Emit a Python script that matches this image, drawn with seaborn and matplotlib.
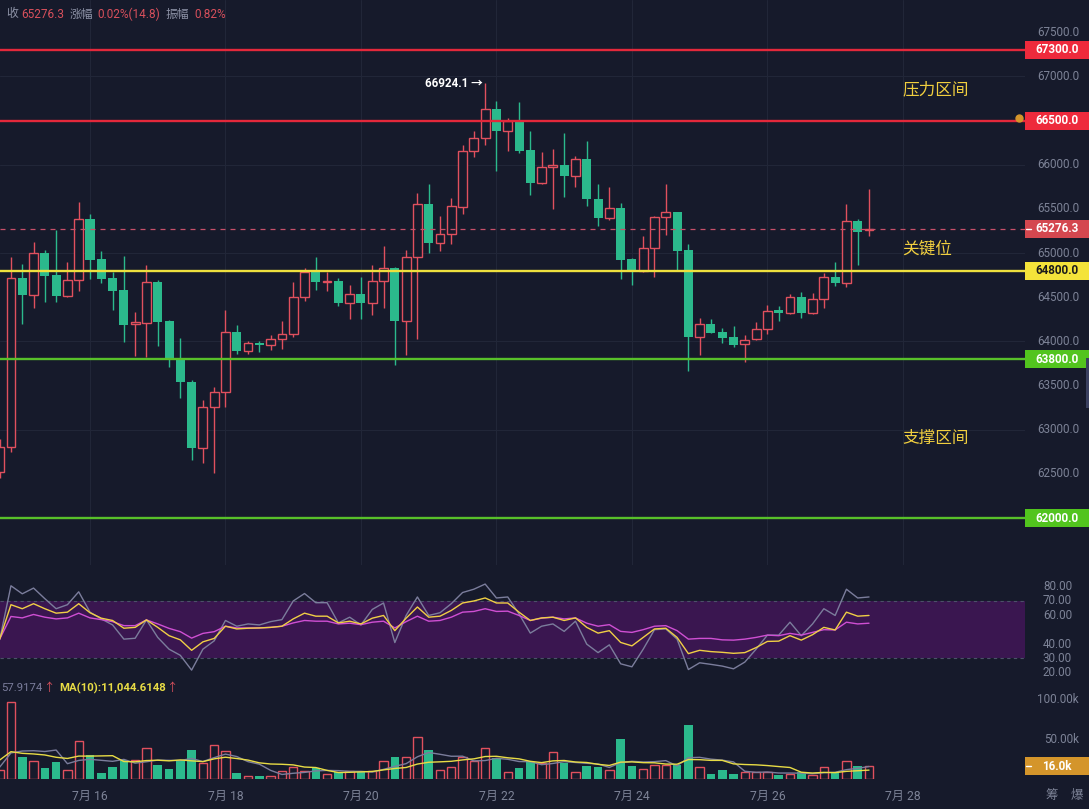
import numpy as np
import pandas as pd
import matplotlib
matplotlib.use("Agg")
import matplotlib.pyplot as plt
import matplotlib.transforms as mtransforms
from matplotlib.patches import Rectangle
import seaborn as sns

# ---------------- data ----------------
start_time = "2024-07-14 16:00"   # first visible 4h candle
opens = [62520, 62800, 64718, 64525, 65001, 64752, 64514, 64695, 65386, 64933,
         64718, 64582, 64197, 64208, 64673, 64231, 63800, 63540, 62793, 63257,
         63427, 64106, 63891, 63982, 63960, 64027, 64084, 64503, 64786, 64670,
         64685, 64435, 64537, 64435, 64684, 64831, 64231, 64956, 65556, 65114,
         65216, 65522, 66156, 66303, 66632, 66383, 66496, 66167, 65794, 65975,
         65998, 65873, 66066, 65613, 65397, 65511, 64933, 64797, 65058, 65409,
         65465, 65035, 64050, 64197, 64106, 64050, 63970, 64027, 64140, 64355,
         64322, 64503, 64322, 64480, 64729, 64661, 65363, 65261.5]
highs = [62890, 64956, 64877, 65126, 65035, 65262, 64899, 65579, 65443, 65024,
         64786, 64967, 64333, 64865, 64700, 64240, 64038, 63563, 63336, 63483,
         64355, 64186, 64004, 64000, 64072, 64231, 64673, 64831, 64956, 64786,
         64718, 64639, 64729, 64865, 65081, 64840, 65035, 65681, 65783, 65420,
         65624, 66224, 66383, 66924.1, 66722, 66530, 66711, 66383, 66145, 66178,
         66360, 66100, 66269, 65783, 65748, 65567, 64940, 65194, 65420, 65783,
         65470, 65103, 64265, 64254, 64150, 64175, 64072, 64220, 64412, 64401,
         64537, 64560, 64548, 64775, 64899, 65556, 65386, 65726]
lows = [62450, 62747, 64197, 64378, 64446, 64446, 64500, 64571, 64707, 64661,
        64355, 63993, 63835, 63823, 63948, 63710, 63359, 62657, 62623, 62510,
        63257, 63857, 63857, 63880, 63902, 63913, 64050, 64457, 64582, 64571,
        64401, 64254, 64254, 64299, 64378, 63733, 63846, 64027, 65001, 65024,
        65103, 65443, 66088, 66224, 65930, 66156, 66133, 65658, 65780, 65499,
        65635, 65748, 65533, 65307, 65380, 64707, 64639, 64790, 64729, 65205,
        64808, 63665, 63846, 64090, 63982, 63936, 63767, 64015, 64084, 64231,
        64310, 64265, 64310, 64378, 64627, 64616, 64865, 65190]
closes = [62800, 64718, 64525, 65001, 64741, 64514, 64695, 65386, 64922, 64707,
          64571, 64186, 64220, 64673, 64220, 63789, 63540, 62793, 63257, 63427,
          64106, 63891, 63982, 63960, 64027, 64084, 64503, 64786, 64673, 64685,
          64435, 64537, 64435, 64684, 64831, 64231, 64956, 65556, 65114, 65216,
          65533, 66156, 66303, 66632, 66383, 66496, 66156, 65794, 65975, 65998,
          65873, 66066, 65613, 65397, 65511, 64922, 64797, 65058, 65409, 65465,
          65024, 64050, 64197, 64095, 64038, 63960, 64020, 64140, 64344, 64322,
          64503, 64322, 64480, 64729, 64661, 65363, 65239, 65276.3]
volume_k = [11.7, 98, 27.5, 23, 13.8, 21, 11.7, 48, 30, 7.5,
            14.6, 24, 24, 39, 18, 13, 23, 36.7, 20, 42.5,
            35.4, 7.5, 4.2, 4.2, 3.3, 9.6, 15, 9.6, 13.8, 6.3,
            8.3, 10.4, 9.6, 9.6, 23, 27.5, 27.5, 53, 36.7, 11.7,
            15, 28, 23, 39, 26, 8.8, 13.8, 22, 20, 33.8,
            20, 8.8, 16.7, 15.8, 11.7, 51, 16.7, 12.5, 18, 18,
            18, 68, 15, 6.7, 11.7, 6.7, 8.8, 8.3, 8.8, 5.4,
            6.3, 8.3, 4.6, 15, 8.3, 23, 16.7, 16.0]
ma5_head = [15, 33, 35.4, 35.8]
ma10_head = [24, 34.6, 32.5, 31.7, 30.4, 27.5, 26, 29, 29]
rsi6 = [43, 80.6, 75, 79, 71.6, 64.6, 67.4, 76.4, 62.2, 57.5, 53.3, 43.4, 44,
        56.8, 44.6, 36.4, 32.1, 21.8, 36.4, 42.2, 56.4, 52.4, 54, 53.3, 55.6,
        57, 70, 75.2, 68.8, 68.8, 54.7, 58.7, 53.3, 64.1, 68.6, 41, 59.9, 72.8,
        59.9, 61.8, 68.1, 75.9, 78.2, 81.8, 72.1, 72.8, 61,
        47.6, 52.4, 54, 48.8, 55.9, 39.9, 34, 39.4, 26.2, 24.1, 36.4, 50, 50.5,
        43.4, 22.2, 26.9, 25.8, 24.6, 22.7, 27.4, 36.4, 46.2, 46.2, 55.2, 45.8,
        54, 64.6, 59.9, 78.2, 72.1, 72.8]
rsi12 = [43.4, 67.4, 64.6, 68.1, 64.6, 61.5, 62.2, 68.1, 61.8, 58, 56.4, 51,
         51.6, 56.8, 51.6, 45.8, 42.9, 35.6, 41.5, 43.9, 52.4, 50.5, 51, 51.2,
         51.6, 52.4, 57.5, 61.5, 59.4, 59.4, 54.7, 55.9, 54, 58, 59.9, 49.3, 58,
         65.8, 58.7, 59.4, 63.4, 68.6, 70, 72.1, 68.6, 68.6, 62.2,
         56.4, 58.2, 58.7, 56.4, 58.2, 51.6, 47.6, 49.3, 41.1, 38.7, 44.6, 50.5,
         51, 44.6, 33.3, 35.6, 34.7, 34.2, 33.5, 34, 37.5, 41.8, 42, 45.8, 42.7,
         46.5, 51.6, 49.8, 62.2, 59.4, 59.9]
rsi24 = [43.4, 59.2, 58.2, 60.6, 58.7, 57.5, 58.2, 61.5, 58.2, 57, 55.6, 52.8,
         52.8, 56.8, 54, 50.9, 48.6, 44.1, 47.4, 48.6, 52.4, 51.2, 51.2, 51.2,
         51.6, 52.4, 54.7, 56.4, 55.9, 55.9, 54, 54.5, 53.5, 55.2, 55.9, 51.2,
         55.6, 59.4, 55.9, 56.4, 58.7, 62.2, 62.7, 64.6, 62.7, 62.9, 59.9,
         56.4, 58, 58.7, 57.5, 58.2, 54.5, 52.4, 53.5, 48.8, 48.1, 50, 52.4,
         52.8, 49.3, 43.4, 43.9, 43.9, 42.9, 42.7, 43.4, 44.6, 46.2, 45.8, 47.4,
         46.2, 48.1, 50, 49.8, 55.2, 54, 54.5]

day_ticks = ["2024-07-16", "2024-07-18", "2024-07-20", "2024-07-22",
             "2024-07-24", "2024-07-26", "2024-07-28"]
day_labels = ["7月 16", "7月 18", "7月 20", "7月 22", "7月 24", "7月 26", "7月 28"]
price_ticks = [67500, 67000, 66500, 66000, 65500, 65000, 64500, 64000,
               63500, 63000, 62500, 62000]
grid_prices = [67000, 66000, 65000, 64000, 63000, 62000]
resistance_levels = [67300, 66500]
key_levels = [64800]
support_levels = [63800, 62000]
last_price = 65276.3
rsi_ticks = [80, 70, 60, 40, 30, 20]
rsi_band = [30, 70]
vol_ticks = [100, 50]
last_vol_label = "16.0k"
zone_labels = ["压力区间", "关键位", "支撑区间"]
info_texts = ["收", "65276.3", "涨幅", "0.02%(14.8)", "振幅", "0.82%"]
ma5_text = "57.9174"
ma10_text = "MA(10):11,044.6148"

# ---------------- style ----------------
BG = "#161a2b"
GRID = "#212638"
UP = "#e0505e"
DOWN = "#2bb98c"
TXT = "#7d8397"
sns.set_style("dark", {"axes.facecolor": BG, "figure.facecolor": BG})
plt.rcParams["font.family"] = ["Roboto", "Noto Sans CJK SC", "DejaVu Sans"]

W, H = 1089, 809
fig = plt.figure(figsize=(W / 100, H / 100), dpi=100, facecolor=BG)


def rect(x0, y0, x1, y1):
    return [x0 / W, 1 - y1 / H, (x1 - x0) / W, (y1 - y0) / H]


ax_p = fig.add_axes(rect(0, 0, 1025, 565))
ax_r = fig.add_axes(rect(0, 570, 1025, 680))
ax_v = fig.add_axes(rect(0, 683, 1025, 779))
for ax in (ax_p, ax_r, ax_v):
    ax.set_facecolor(BG)
    for s in ax.spines.values():
        s.set_visible(False)
    ax.set_xticks([])
    ax.set_yticks([])
    ax.grid(False)

times = pd.date_range(start_time, periods=len(opens), freq="4h")
n = np.arange(len(opens), dtype=float)
o, h, l, c = (np.asarray(a, float) for a in (opens, highs, lows, closes))
up = c >= o

# candle spacing ~11.29 px; candle #8 (7/16 00:00) at x=90 px
XL = (8 - 90 / 11.29, 8 + 935 / 11.29)
for ax in (ax_p, ax_r, ax_v):
    ax.set_xlim(*XL)
ax_p.set_ylim(61468, 67866)
ax_r.set_ylim(14.9, 91.6)
ax_v.set_ylim(0, 121.5)

tick_pos = [(pd.Timestamp(d) - times[0]) / pd.Timedelta("4h") for d in day_ticks]

# grid
for gp in grid_prices:
    ax_p.axhline(gp, color=GRID, lw=0.8, zorder=0)
for tp in tick_pos:
    ax_p.axvline(tp, color=GRID, lw=0.8, zorder=0)

# candles
lo_b = np.minimum(o, c)
hi_b = np.maximum(o, c)
bh = np.maximum(hi_b - lo_b, 14)
ax_p.vlines(n[up], l[up], lo_b[up], color=UP, lw=1, zorder=2)
ax_p.vlines(n[up], hi_b[up], h[up], color=UP, lw=1, zorder=2)
ax_p.vlines(n[~up], l[~up], h[~up], color=DOWN, lw=1, zorder=2)
ax_p.bar(n[up], bh[up], bottom=lo_b[up], width=0.78, facecolor=BG,
         edgecolor=UP, linewidth=1, zorder=3)
ax_p.bar(n[~up], bh[~up], bottom=lo_b[~up], width=0.8, color=DOWN,
         linewidth=0, zorder=3)

# level lines
for lv in resistance_levels:
    ax_p.axhline(lv, color="#e3283b", lw=1.7, zorder=4)
for lv in key_levels:
    ax_p.axhline(lv, color="#eee03e", lw=1.7, zorder=4)
for lv in support_levels:
    ax_p.axhline(lv, color="#58c02a", lw=1.7, zorder=4)
ax_p.axhline(last_price, color="#c8506a", lw=0.9, ls=(0, (4, 4)), zorder=4)

# right-side price labels
tp_fig = mtransforms.blended_transform_factory(fig.transFigure, ax_p.transData)
for pt in price_ticks:
    ax_p.text(1079 / W, pt, f"{pt:.1f}", transform=tp_fig, ha="right",
              va="center", color=TXT, fontsize=8.4, clip_on=False)

PX = 11.325  # price units per pixel


def price_box(val, fc, tc, dash=False):
    ax_p.add_patch(Rectangle((1025 / W, val - 9 * PX), 64 / W, 18 * PX,
                             transform=tp_fig, facecolor=fc, edgecolor="none",
                             clip_on=False, zorder=6))
    ax_p.text(1079 / W, val, f"{val:.1f}", transform=tp_fig, ha="right",
              va="center", color=tc, fontsize=8.4, fontweight="bold",
              clip_on=False, zorder=7)
    if dash:
        ax_p.plot([1026 / W, 1031 / W], [val, val], transform=tp_fig,
                  color="white", lw=1, clip_on=False, zorder=7)


for lv in resistance_levels:
    price_box(lv, "#ee2a3c", "white")
price_box(last_price, "#d4474f", "white", dash=True)
for lv in key_levels:
    price_box(lv, "#f4e33a", "#1b1b1b")
for lv in support_levels:
    price_box(lv, "#52c41e", "white")

# bell marker
ax_p.plot([1019 / W], [resistance_levels[1] + 3 * PX], "o", ms=5,
          color="#d4952b", transform=tp_fig, clip_on=False, zorder=8)

# zone annotations
zone_y = [66858, 65046, 62906]
for txt, yv in zip(zone_labels, zone_y):
    ax_p.text(902 / W, yv, txt, transform=tp_fig, ha="left", va="center",
              color="#f1cf3f", fontsize=12, zorder=8)

# peak label
ipk = int(np.argmax(h))
ax_p.annotate(f"{h[ipk]:.1f} →", xy=(n[ipk], h[ipk]), xytext=(-2, 0),
              textcoords="offset points", ha="right", va="center",
              color="white", fontsize=8.4, fontweight="bold", zorder=8)

# top-left info text
info_x = [6, 21, 70, 97, 166, 194]
info_c = ["#8d92a6", "#d8505c", "#8d92a6", "#d8505c", "#8d92a6", "#d8505c"]
for t, xx, cc in zip(info_texts, info_x, info_c):
    fig.text(xx / W, 1 - 14 / H, t, ha="left", va="center", color=cc,
             fontsize=8.5)

# scroll indicator
fig.patches.append(Rectangle((1086 / W, 1 - 408 / H), 3 / W, 50 / H,
                             transform=fig.transFigure, facecolor="#3a4060",
                             edgecolor="none"))

# ---------------- RSI panel ----------------
ax_r.axhspan(rsi_band[0], rsi_band[1], color="#3a1650", zorder=0, lw=0)
for b in rsi_band:
    ax_r.axhline(b, color="#4c5168", lw=0.8, ls=(0, (3, 3)), zorder=1)
sns.lineplot(x=n, y=rsi6, ax=ax_r, color="#7b7d9c", lw=1, zorder=3)
sns.lineplot(x=n, y=rsi12, ax=ax_r, color="#f0cf45", lw=1, zorder=4)
sns.lineplot(x=n, y=rsi24, ax=ax_r, color="#cf4fd3", lw=1, zorder=3)
ax_r.set_xlabel("")
ax_r.set_ylabel("")
ax_r.set_xticks([])
ax_r.set_yticks([])
tr_fig = mtransforms.blended_transform_factory(fig.transFigure, ax_r.transData)
for rt in rsi_ticks:
    ax_r.text(1072 / W, rt, f"{rt:.2f}", transform=tr_fig, ha="right",
              va="center", color=TXT, fontsize=8.4, clip_on=False)

# ---------------- volume panel ----------------
v = np.asarray(volume_k, float)
ax_v.bar(n[up], v[up], width=0.74, facecolor=BG, edgecolor=UP,
         linewidth=1, zorder=2)
ax_v.bar(n[~up], v[~up], width=0.76, color=DOWN, linewidth=0, zorder=2)
vs = pd.Series(v)
ma5 = vs.rolling(5).mean().to_numpy()
ma10 = vs.rolling(10).mean().to_numpy()
ma5[:len(ma5_head)] = ma5_head
ma10[:len(ma10_head)] = ma10_head
sns.lineplot(x=n, y=ma5, ax=ax_v, color="#7b7d9c", lw=1, zorder=3)
sns.lineplot(x=n, y=ma10, ax=ax_v, color="#e8dc45", lw=1, zorder=4)
ax_v.set_xlabel("")
ax_v.set_ylabel("")
ax_v.set_xticks([])
ax_v.set_yticks([])
tv_fig = mtransforms.blended_transform_factory(fig.transFigure, ax_v.transData)
for vt in vol_ticks:
    ax_v.text(1079 / W, vt, f"{vt:.2f}k", transform=tv_fig, ha="right",
              va="center", color=TXT, fontsize=8.4, clip_on=False)
VPX = 1 / 0.79
ax_v.add_patch(Rectangle((1025 / W, v[-1] - 9 * VPX), 64 / W, 18 * VPX,
                         transform=tv_fig, facecolor="#d4952b",
                         edgecolor="none", clip_on=False, zorder=6))
ax_v.text(1072 / W, v[-1], last_vol_label, transform=tv_fig, ha="right",
          va="center", color="white", fontsize=8.4, fontweight="bold",
          clip_on=False, zorder=7)
ax_v.plot([1026 / W, 1031 / W], [v[-1], v[-1]], transform=tv_fig,
          color="white", lw=1, clip_on=False, zorder=7)

# MA header text (laid out left to right)
renderer = fig.canvas.get_renderer()
t5 = fig.text(1 / W, 1 - 688 / H, ma5_text, ha="left", va="center",
              color="#7b7d9c", fontsize=8.2)
bb5 = t5.get_window_extent(renderer)
a5 = fig.text((bb5.x1 + 0.5) / W, 1 - 688 / H, "↑", ha="left", va="center",
              color="#d8505c", fontsize=8.2)
ba5 = a5.get_window_extent(renderer)
t10 = fig.text((ba5.x1 + 5) / W, 1 - 688 / H, ma10_text, ha="left",
               va="center", color="#e8dc45", fontsize=8.2, fontweight="bold")
bb = t10.get_window_extent(renderer)
fig.text((bb.x1 + 0.5) / W, 1 - 688 / H, "↑", ha="left", va="center",
         color="#d8505c", fontsize=8.2)

# x labels
tx = mtransforms.blended_transform_factory(ax_v.transData, fig.transFigure)
for tp, lab in zip(tick_pos, day_labels):
    ax_v.text(tp, 1 - 796 / H, lab, transform=tx, ha="center", va="center",
              color=TXT, fontsize=8.7, clip_on=False)
fig.text(1052 / W, 1 - 796 / H, "筹", ha="center", va="center", color=TXT,
         fontsize=9)
fig.text(1077 / W, 1 - 796 / H, "爆", ha="center", va="center", color=TXT,
         fontsize=9)

fig.savefig("out.png", dpi=100, facecolor=BG)
